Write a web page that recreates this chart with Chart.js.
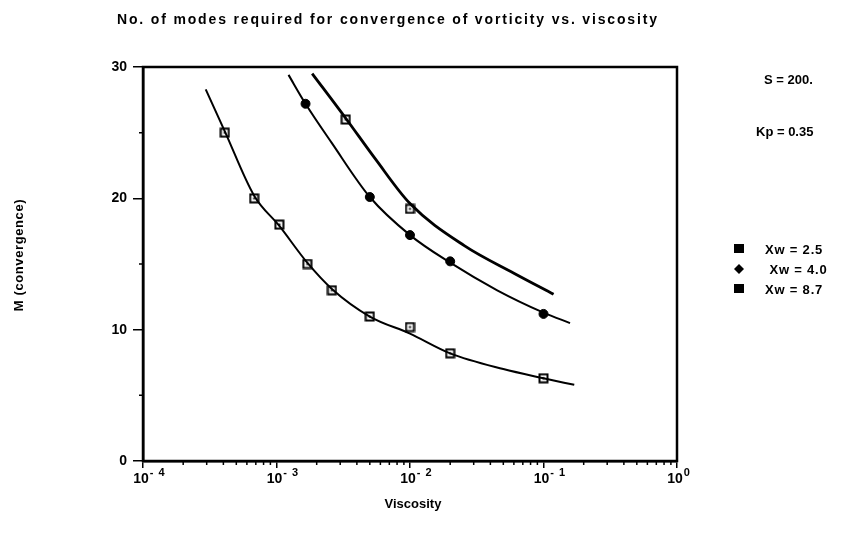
<!DOCTYPE html>
<html>
<head>
<meta charset="utf-8">
<script src="https://cdn.jsdelivr.net/npm/chart.js@4.4.1/dist/chart.umd.min.js"></script>
<style>
  body { margin: 0; background: #fff; }
  #wrap { width: 841px; height: 541px; }
</style>
</head>
<body>
<div id="wrap"><canvas id="chart" width="841" height="541"></canvas></div>
<script>
// measured points
const xw25Visc = [0.00041, 0.00068, 0.00105, 0.0017, 0.0026, 0.005, 0.01, 0.02, 0.1];
const xw25M = [25, 20, 18, 15, 13, 11, 10.2, 8.2, 6.3];
const xw40Visc = [0.00165, 0.005, 0.01, 0.02, 0.1];
const xw40M = [27.2, 20.1, 17.2, 15.2, 11.2];
const xw87Visc = [0.0033, 0.01];
const xw87M = [26, 19.2];

// fitted curves
const fit25Visc = [0.000295, 0.00041, 0.00068, 0.00105, 0.0017, 0.0026, 0.005, 0.01, 0.02, 0.05, 0.1, 0.17];
const fit25M = [28.3, 25.1, 20.2, 17.9, 15.1, 13.1, 11.0, 9.7, 8.2, 7.0, 6.3, 5.8];
const fit40Visc = [0.00123, 0.00165, 0.0026, 0.005, 0.01, 0.02, 0.045, 0.1, 0.158];
const fit40M = [29.4, 27.2, 24.2, 20.1, 17.2, 15.1, 13.0, 11.3, 10.5];
const fit87Visc = [0.00185, 0.0033, 0.0055, 0.01, 0.0255, 0.06, 0.119];
const fit87M = [29.5, 26.1, 23.0, 19.6, 16.4, 14.3, 12.7];

const decades = [1e-4, 1e-3, 1e-2, 1e-1, 1];
const decadeExp = ["-4", "-3", "-2", "-1", "0"];
const minorSteps = [2, 3, 4, 5, 6, 7, 8, 9];
const yTicks = [0, 5, 10, 15, 20, 25, 30];
const legendLabels = ["Xw = 2.5", " Xw = 4.0", "Xw = 8.7"];
const legendShapes = ["square", "diamond", "square"];
const notes = ["S = 200.", "Kp = 0.35"];
const title = "No. of modes required for convergence of vorticity vs. viscosity";

const FONT = "'Liberation Sans', Arial, sans-serif";

const toPts = (xs, ys) => xs.map((x, i) => ({ x: x, y: ys[i] }));

// open square with a dot in the middle, like the scanned markers
const openSquare = (() => {
  const c = document.createElement("canvas");
  c.width = 11;
  c.height = 11;
  const g = c.getContext("2d");
  g.strokeStyle = "#000";
  g.lineWidth = 2;
  g.strokeRect(1.5, 1.5, 8, 8);
  g.fillStyle = "#000";
  g.fillRect(4.5, 4.5, 2, 2);
  return c;
})();

const curve = (xs, ys, w) => ({
  type: "line",
  data: toPts(xs, ys),
  borderColor: "#000",
  borderWidth: w,
  pointRadius: 0,
  cubicInterpolationMode: "monotone",
  fill: false,
});

const marks = (xs, ys, style) => ({
  type: "line",
  data: toPts(xs, ys),
  showLine: false,
  pointStyle: style,
  pointRadius: style === "circle" ? 4.5 : 5.5,
  backgroundColor: "#000",
  borderColor: "#000",
  borderWidth: 1,
});

// text drawn with spacing so it spans a given width
const spanText = (ctx, text, left, width, y) => {
  ctx.letterSpacing = "0px";
  const w = ctx.measureText(text).width;
  ctx.letterSpacing = `${Math.max(0, (width - w) / (text.length - 1))}px`;
  ctx.textAlign = "left";
  ctx.fillText(text, left, y);
  ctx.letterSpacing = "0px";
};

const decorPlugin = {
  id: "decor",
  afterDraw(chart) {
    const { ctx, chartArea: a, scales } = chart;
    ctx.save();
    ctx.strokeStyle = "#000";
    ctx.lineWidth = 2.5;
    ctx.strokeRect(a.left, a.top, a.right - a.left, a.bottom - a.top);

    // minor ticks
    ctx.lineWidth = 1.5;
    ctx.beginPath();
    decades.slice(0, -1).forEach((d) => {
      minorSteps.forEach((m) => {
        const px = scales.x.getPixelForValue(d * m);
        ctx.moveTo(px, a.bottom);
        ctx.lineTo(px, a.bottom + 4);
      });
    });
    yTicks.filter((v) => v % 10 !== 0).forEach((v) => {
      const py = scales.y.getPixelForValue(v);
      ctx.moveTo(a.left, py);
      ctx.lineTo(a.left - 4, py);
    });
    ctx.stroke();

    ctx.fillStyle = "#000";
    ctx.textBaseline = "alphabetic";

    // x tick labels: 10 with raised exponent
    decades.forEach((d, i) => {
      const px = scales.x.getPixelForValue(d);
      ctx.font = `bold 14px ${FONT}`;
      ctx.textAlign = "center";
      ctx.fillText("10", px - 2, a.bottom + 22);
      const w = ctx.measureText("10").width;
      ctx.font = `bold 11px ${FONT}`;
      ctx.textAlign = "left";
      ctx.letterSpacing = decadeExp[i].length > 1 ? "5px" : "0px";
      ctx.fillText(decadeExp[i], px - 2 + w / 2 + 1, a.bottom + 15);
      ctx.letterSpacing = "0px";
    });

    ctx.font = `bold 14px ${FONT}`;
    spanText(ctx, title, 117, 540, 24);

    ctx.textAlign = "center";
    ctx.font = `bold 13px ${FONT}`;
    ctx.fillText("Viscosity", 413, 508);

    ctx.save();
    ctx.translate(23, 255);
    ctx.rotate(-Math.PI / 2);
    ctx.font = `bold 13px ${FONT}`;
    ctx.letterSpacing = "0.6px";
    ctx.fillText("M (convergence)", 0, 0);
    ctx.restore();

    ctx.textAlign = "left";
    ctx.font = `bold 13px ${FONT}`;
    ctx.fillText(notes[0], 764, 84);
    ctx.fillText(notes[1], 756, 136);

    legendLabels.forEach((t, i) => {
      const y = 249 + i * 20;
      if (legendShapes[i] === "square") {
        ctx.fillRect(734, y - 5, 10, 9);
      } else {
        ctx.beginPath();
        ctx.moveTo(739, y - 5);
        ctx.lineTo(744, y);
        ctx.lineTo(739, y + 5);
        ctx.lineTo(734, y);
        ctx.closePath();
        ctx.fill();
      }
      ctx.font = `bold 13px ${FONT}`;
      ctx.letterSpacing = "0.8px";
      ctx.fillText(t, 765, y + 5);
      ctx.letterSpacing = "0px";
    });
    ctx.restore();
  },
};

new Chart(document.getElementById("chart"), {
  type: "line",
  data: {
    datasets: [
      curve(fit25Visc, fit25M, 2),
      curve(fit40Visc, fit40M, 2),
      curve(fit87Visc, fit87M, 2.8),
      marks(xw25Visc, xw25M, openSquare),
      marks(xw40Visc, xw40M, "circle"),
      marks(xw87Visc, xw87M, openSquare),
    ],
  },
  options: {
    responsive: false,
    animation: false,
    layout: { padding: { left: 0, right: 164, top: 67, bottom: 0 } },
    plugins: { legend: { display: false }, tooltip: { enabled: false } },
    scales: {
      x: {
        type: "logarithmic",
        min: 1e-4,
        max: 1,
        afterBuildTicks: (s) => {
          s.ticks = decades.map((d) => ({ value: d, major: true }));
        },
        afterFit: (s) => { s.height = 80; },
        ticks: { display: false },
        grid: {
          drawOnChartArea: false,
          drawTicks: true,
          tickLength: 7,
          color: "#000",
          lineWidth: 1.5,
        },
        border: { display: true, color: "#000", width: 2.5 },
      },
      y: {
        min: 0,
        max: 30,
        afterBuildTicks: (s) => {
          s.ticks = yTicks.filter((v) => v % 10 === 0).map((v) => ({ value: v }));
        },
        afterFit: (s) => { s.width = 143; },
        ticks: {
          color: "#000",
          padding: 6,
          font: { family: FONT, size: 14, weight: "bold" },
        },
        grid: {
          drawOnChartArea: false,
          drawTicks: true,
          tickLength: 10,
          color: "#000",
          lineWidth: 1.5,
        },
        border: { display: true, color: "#000", width: 2.5 },
      },
    },
  },
  plugins: [decorPlugin],
});
</script>
</body>
</html>
